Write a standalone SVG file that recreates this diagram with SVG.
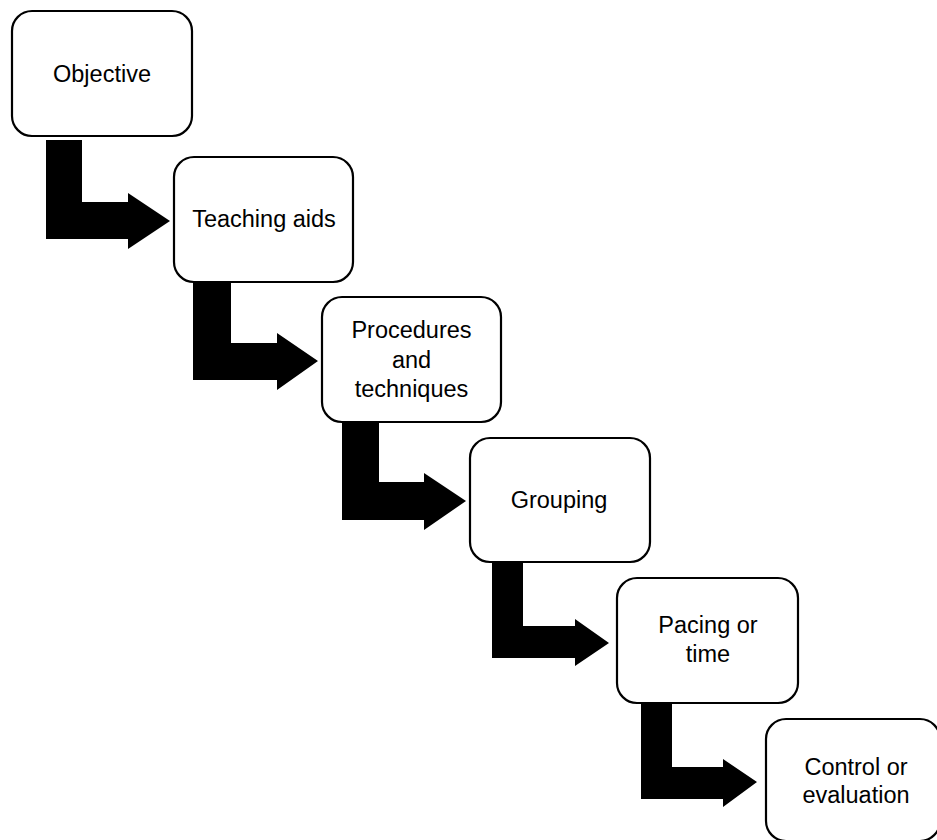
<svg xmlns="http://www.w3.org/2000/svg" width="937" height="840" viewBox="0 0 937 840">
<style>
.box{fill:#fff;stroke:#000;stroke-width:2.2}
.lbl{font-family:"Liberation Sans","Open Sans",sans-serif;font-size:23.5px;fill:#000;text-anchor:middle}
.arr{fill:#000}
</style>
<rect width="937" height="840" fill="#fff"/>
<g id="connectors">
<polygon class="arr" points="46,140 82,140 82,202 128,202 128,193 170,221 128,249 128,239 46,239"/>
<polygon class="arr" points="193,283 231,283 231,343 277,343 277,333 318,361 277,390 277,380 193,380"/>
<polygon class="arr" points="342,422 379,422 379,482 424,482 424,473 466,501 424,530 424,520 342,520"/>
<polygon class="arr" points="492,562 523,562 523,626 575,626 575,619 609,643 575,666 575,658 492,658"/>
<polygon class="arr" points="641,703 672,703 672,767 723,767 723,759 757,782 723,807 723,799 641,799"/>
</g>
<g id="n1"><rect class="box" x="12" y="11" width="180" height="125" rx="20"/><text class="lbl" x="102" y="82">Objective</text></g>
<g id="n2"><rect class="box" x="174" y="157" width="179" height="125" rx="20"/><text class="lbl" x="264" y="227">Teaching aids</text></g>
<g id="n3"><rect class="box" x="322" y="297" width="179" height="125" rx="20"/><text class="lbl" x="411.5" y="338">Procedures</text><text class="lbl" x="411.5" y="368">and</text><text class="lbl" x="411.5" y="397">techniques</text></g>
<g id="n4"><rect class="box" x="470" y="438" width="180" height="124" rx="20"/><text class="lbl" x="559" y="508">Grouping</text></g>
<g id="n5"><rect class="box" x="617" y="578" width="181" height="125" rx="20"/><text class="lbl" x="708" y="633">Pacing or</text><text class="lbl" x="708" y="662">time</text></g>
<g id="n6"><rect class="box" x="766" y="719" width="174" height="122" rx="20"/><text class="lbl" x="856" y="775">Control or</text><text class="lbl" x="856" y="803">evaluation</text></g>
</svg>
